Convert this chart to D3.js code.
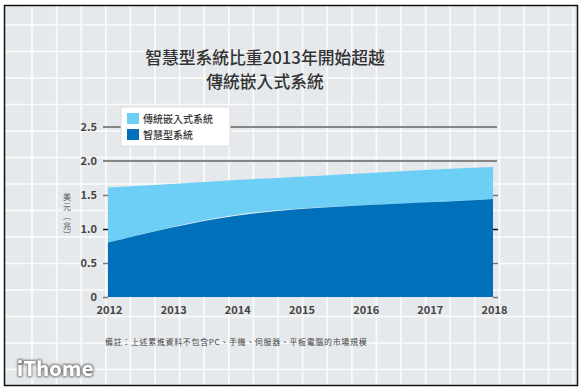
<!DOCTYPE html>
<html><head><meta charset="utf-8">
<script src="https://cdn.jsdelivr.net/npm/d3@7"></script>
<style>
html,body{margin:0;padding:0;background:#fff;}
svg{display:block;}
text{font-family:"Noto Sans CJK TC","Noto Sans",sans-serif;}
</style></head>
<body>
<svg id="c" width="584" height="390"></svg>
<script>
// ---- data ----
const years = [2012, 2013, 2014, 2015, 2016, 2017, 2018];
const smartSystems = [0.80, 1.03, 1.21, 1.30, 1.35, 1.39, 1.44];      // 智慧型系統
const totalSystems = [1.61, 1.66, 1.72, 1.77, 1.82, 1.87, 1.91];      // top of 傳統嵌入式系統 (stacked)
const yTicks = [0, 0.5, 1.0, 1.5, 2.0, 2.5];
const yTickLabels = ["0", "0.5", "1.0", "1.5", "2.0", "2.5"];
const seriesNames = ["傳統嵌入式系統", "智慧型系統"];
const titleLines = ["智慧型系統比重2013年開始超越", "傳統嵌入式系統"];
const yLabelText = "美元（兆）";
const footnote = "備註：上述累進資料不包含PC、手機、伺服器、平板電腦的市場規模";

const lightBlue = "#6dcff6", darkBlue = "#0070bb";
const svg = d3.select("#c");

// background
svg.append("rect").attr("x",4.5).attr("y",5.5).attr("width",573).attr("height",380)
  .attr("fill","#e6e9ec");
const bg = svg.append("g").attr("stroke","#fff").attr("stroke-width",1.6).attr("opacity",0.85);
d3.range(32, 578, 24.6).forEach(x => bg.append("line").attr("x1",x).attr("x2",x).attr("y1",6).attr("y2",385));
d3.range(25, 385, 26.5).forEach(y => bg.append("line").attr("x1",5).attr("x2",577).attr("y1",y).attr("y2",y));
svg.append("rect").attr("x",4.5).attr("y",5.5).attr("width",573).attr("height",380)
  .attr("fill","none").attr("stroke","#111").attr("stroke-width",1.5);

const x = d3.scaleLinear().domain([2012, 2018]).range([108, 493]);
const y = d3.scaleLinear().domain([0, 2.5]).range([297, 127]);

// gridlines at 2.0 and 2.5
svg.append("g").selectAll("line").data(yTicks.filter(v => v >= 2)).join("line")
  .attr("x1",103).attr("x2",497).attr("y1",d=>y(d)).attr("y2",d=>y(d))
  .attr("stroke","#858585").attr("stroke-width",2);

const data = years.map((yr,i)=>({yr, s:smartSystems[i], t:totalSystems[i]}));
svg.append("path").datum(data).attr("fill",lightBlue)
  .attr("d", d3.area().x(d=>x(d.yr)).y0(d=>y(d.s)).y1(d=>y(d.t)).curve(d3.curveMonotoneX));
svg.append("path").datum(data).attr("fill",darkBlue)
  .attr("d", d3.area().x(d=>x(d.yr)).y0(y(0)).y1(d=>y(d.s)).curve(d3.curveBasis));

// y axis
const yAxis = svg.append("g").attr("transform","translate(108,0)")
  .call(d3.axisLeft(y).tickValues(yTicks).tickSize(5).tickPadding(6)
    .tickFormat((d,i)=>yTickLabels[i]));
yAxis.select(".domain").remove();
yAxis.selectAll(".tick line").attr("stroke",d=>d===1?"#111":"#777").attr("stroke-width",1.5)
  .attr("opacity", d=> d>=2 ? 0 : 1);
yAxis.selectAll("text").attr("font-family","'Open Sans',sans-serif").attr("font-weight",600)
  .attr("font-size",11).attr("fill","#444");

// right ticks
const yAxisR = svg.append("g").attr("transform","translate(493,0)")
  .call(d3.axisRight(y).tickValues(yTicks.filter(v=>v<2)).tickSize(5).tickFormat(""));
yAxisR.select(".domain").remove();
yAxisR.selectAll(".tick line").attr("stroke",d=>d===1?"#111":"#777").attr("stroke-width",1.5);

// x axis
const xAxis = svg.append("g").attr("transform","translate(1,300)")
  .call(d3.axisBottom(x).tickValues(years).tickSize(0).tickPadding(6).tickFormat(d3.format("d")));
xAxis.select(".domain").remove();
xAxis.selectAll("text").attr("font-family","'Open Sans',sans-serif").attr("font-weight",600)
  .attr("font-size",11).attr("fill","#444");

// title
svg.append("g").selectAll("text").data(titleLines).join("text")
  .attr("x",265).attr("y",(d,i)=>63.5+i*24.4).attr("text-anchor","middle")
  .attr("font-size",16.8).attr("font-weight",500).attr("fill","#333").text(d=>d);

// legend
const lg = svg.append("g");
lg.append("rect").attr("x",121).attr("y",107).attr("width",109).attr("height",39)
  .attr("fill","#fff").attr("stroke","#ddd");
[lightBlue, darkBlue].forEach((c,i)=>{
  lg.append("rect").attr("x",127).attr("y",113+i*16).attr("width",12).attr("height",11).attr("fill",c);
  lg.append("text").attr("x",143).attr("y",122.5+i*16).attr("font-size",10).attr("font-weight",500)
    .attr("fill","#333").text(seriesNames[i]);
});

// y label (vertical, single text element)
svg.append("text").attr("x",67).attr("y",193)
  .attr("font-size",8).attr("fill","#555")
  .style("writing-mode","vertical-rl").style("text-orientation","upright")
  .attr("letter-spacing",1.5).text(yLabelText);

// footnote
svg.append("text").attr("x",105).attr("y",345).attr("font-size",8).attr("letter-spacing",0.65)
  .attr("fill","#444").text(footnote);

// logo
const defs = svg.append("defs");
const f = defs.append("filter").attr("id","glow").attr("x","-20%").attr("y","-40%").attr("width","140%").attr("height","180%");
f.append("feMorphology").attr("in","SourceAlpha").attr("operator","dilate").attr("radius",1.2).attr("result","d");
f.append("feGaussianBlur").attr("in","d").attr("stdDeviation",1.2).attr("result","b");
f.append("feFlood").attr("flood-color","#777");
f.append("feComposite").attr("in2","b").attr("operator","in").attr("result","s");
const m = f.append("feMerge"); m.append("feMergeNode").attr("in","s"); m.append("feMergeNode").attr("in","SourceGraphic");
svg.append("text").attr("x",17).attr("y",376).attr("font-family","'DejaVu Sans',sans-serif")
  .attr("font-weight","bold").attr("font-size",20).attr("fill","#fff").attr("filter","url(#glow)")
  .attr("letter-spacing",0.3).text("iThome");
</script>
</body></html>
